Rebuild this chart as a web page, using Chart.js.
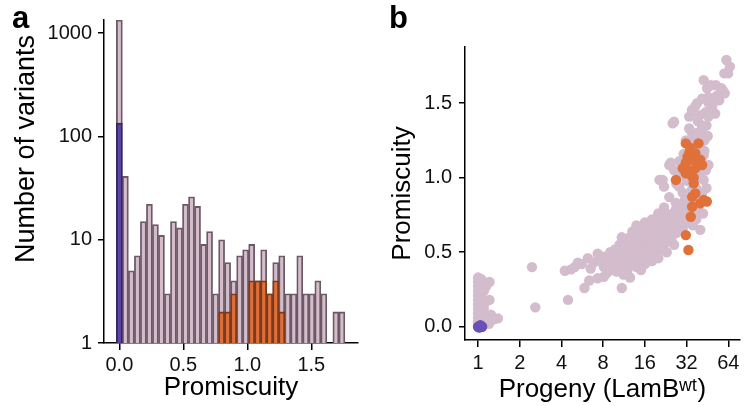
<!DOCTYPE html>
<html><head><meta charset="utf-8">
<script src="https://cdn.jsdelivr.net/npm/chart.js@4.4.1/dist/chart.umd.min.js"></script>
<style>
html,body{margin:0;padding:0;background:#fff;}
#wrap{position:relative;width:745px;height:406px;overflow:hidden;background:#fff;}
#ca{position:absolute;left:0;top:0;width:372px;height:406px;}
#cb{position:absolute;left:372px;top:0;width:373px;height:406px;}
.lbl{position:absolute;font-family:'Liberation Sans',Arial,sans-serif;font-weight:bold;font-size:31px;line-height:31px;color:#000;}
</style></head><body>
<div id="wrap">
<canvas id="ca" width="372" height="406"></canvas>
<canvas id="cb" width="373" height="406"></canvas>
<div class="lbl" style="left:12px;top:2px">a</div>
<div class="lbl" style="left:389px;top:2px">b</div>
</div>
<script>
// ---------- Panel a: histogram ----------
const binCenters = [0.000,0.047,0.094,0.141,0.188,0.235,0.282,0.329,0.376,0.423,0.470,0.517,0.564,0.611,0.658,0.705,0.752,0.799,0.846,0.893,0.940,0.987,1.034,1.081,1.128,1.175,1.222,1.269,1.316,1.363,1.410,1.457,1.504,1.551,1.598,1.645,1.692,1.739];
const allCounts = [1340,41,5,7,15,22,14,11,3,15,13,22,26,21,9,12,3,10,6,4,7,8,9,4,8,3,6,7,3,3,7,3,3,4,3,null,2,2];
const orangeBins = [0.799,0.846,0.893,1.034,1.081,1.128,1.175,1.222,1.269];
const orangeCounts = [2,2,3,4,4,4,3,4,2];
const blueBins = [0.000];
const blueCounts = [135];
const yTicksA = [1,10,100,1000];
const xTicksA = [0,0.5,1,1.5];

// ---------- Panel b: scatter ----------
const pinkPts = [
[1,0.00],[1,0.03],[1,0.06],[1,0.09],[1,0.12],[1,0.15],[1,0.18],[1,0.21],[1,0.24],[1,0.27],[1,0.30],[1,0.33],
[1.05,0.02],[1.05,0.08],[1.05,0.14],[1.05,0.20],[1.05,0.26],[1.05,0.32],
[1.1,0.05],[1.1,0.12],[1.1,0.24],[1.1,0.30],[1.21,0.30],[1.21,0.18],[1.24,0.08],[1.15,0.04],[1.3,0.05],[1.39,0.056],[1.2,0.02],[1.12,0.16],[1.14,0.27],
[2.45,0.40],[2.59,0.13],[4.46,0.18],[4.23,0.376],[4.98,0.40],[5.86,0.26],[6.35,0.31],[7.3,0.325],[8.1,0.335],[5.25,0.43],[6.2,0.46],[6.5,0.39],[7.3,0.49],[8.1,0.40],[9.0,0.50],[9.5,0.45],[10.9,0.26],[11.2,0.35],[11.9,0.425],[4.7,0.385],[5.6,0.42],[6.8,0.43],[7.8,0.45],
[7.5,0.44],[8.0,0.47],[8.5,0.42],[9.2,0.46],[9.8,0.52],[10.2,0.48],[10.5,0.55],[10.8,0.44],[11.0,0.52],[11.5,0.58],[11.8,0.49],[12.0,0.55],[12.3,0.46],[12.5,0.60],[12.8,0.52],[13.0,0.57],[13.5,0.50],[13.8,0.62],[14.0,0.55],[14.2,0.47],[14.6,0.59],[15.0,0.53],[15.2,0.65],[15.5,0.57],[15.8,0.49],[16.0,0.61],[16.3,0.55],[16.6,0.67],[17.0,0.58],[17.3,0.52],[17.6,0.63],[18.0,0.69],[18.3,0.57],[18.7,0.61],[19.0,0.54],[19.3,0.66],[19.7,0.60],[20.0,0.71],[20.4,0.63],[20.8,0.57],[21.2,0.67],[21.6,0.61],[22.0,0.73],[22.5,0.65],[23.0,0.58],[23.5,0.69],[24.0,0.62],[24.5,0.75],[25.0,0.67],[25.5,0.71],[26.0,0.64],[26.5,0.78],[27.0,0.70],[27.5,0.74],[28.0,0.67],[28.5,0.82],[29.0,0.72],[30.0,0.78],[29.5,0.65],
[9.5,0.38],[10.5,0.40],[11.5,0.43],[12.0,0.38],[13.0,0.42],[14.5,0.44],[16.0,0.47],[17.5,0.45],[19.0,0.50],[20.5,0.52],[22.0,0.55],
[14.0,0.40],[16.0,0.42],[18.0,0.44],[20.0,0.46],[23.0,0.50],[26.0,0.55],[12.5,0.33],[15.0,0.38],[14.0,0.66],[16.0,0.70],[18.0,0.72],[20.0,0.76],[13.0,0.64],[22.0,0.80],
[8.5,0.36],[9.0,0.41],[10.0,0.37],[10.0,0.45],[10.5,0.50],[11.0,0.41],[12.0,0.50],[13.0,0.47],[13.5,0.55],[14.5,0.50],[15.5,0.45],[16.5,0.52],[17.0,0.48],[18.0,0.53],[19.0,0.57],[20.0,0.55],[21.0,0.58],[22.5,0.60],[23.0,0.65],[24.0,0.68],[25.0,0.60],[26.0,0.72],[27.0,0.63],[28.0,0.75],[29.5,0.80],[31.0,0.70],[30.0,0.66],[32.0,0.73],[33.5,0.78],[34.5,0.86],[36.5,0.80],[38.5,0.85],[37.5,0.93],[39.0,1.00],[41.0,1.05],[42.5,1.15],[43.0,1.25],[44.5,1.35],[45.5,1.28],[47.0,1.45],[53.0,1.55],[55.0,1.52],[57.0,1.60],[52.0,1.62],
[24.0,0.87],[26.8,0.83],[28.3,0.94],[21.5,0.985],[22.0,0.94],[20.4,0.985],[24.0,1.085],[24.6,1.10],[28.3,1.11],[25.4,1.365],[26.0,1.375],[33.4,1.33],[35.1,1.44],[38.1,1.50],[42.5,1.655],[46.2,1.50],[50.0,1.53],[46.0,1.41],[41.4,1.33],[43.6,1.275],[40.2,1.23],[46.0,1.085],[42.5,0.985],[41.4,0.895],[40.2,0.65],[60.3,1.566],[58.9,1.58],[63.8,1.70],[60.0,1.70],[62.0,1.79],[65.7,1.745],[49.0,1.48],[51.5,1.43],[33.4,1.41],[37.0,1.48],[41.4,1.53],[46.0,1.54],[31.6,1.25],[39.0,1.185],[37.0,1.03],[35.0,0.92],[33.4,0.805],[31.6,0.76],[29.0,0.705],[26.7,0.67],[20.4,0.67],[19.3,0.60],[12.5,0.60],[10.9,0.60],[13.9,0.68],[17.4,0.69],[22.8,0.76],
[30.0,0.90],[32.0,0.98],[29.0,1.02],[27.0,0.96],[31.0,0.85],[36.0,1.25],[38.5,1.38],[44.0,1.44],[40.0,1.42],[45.0,1.60],[48.0,1.62],[35.0,1.30],[30.5,1.16],[26.0,1.05],[43.0,1.18],[44.0,1.05],[39.0,0.78],[37.5,0.72],[35.5,0.68],[33.0,0.70],[42.0,0.76],[44.5,0.93],[38.1,1.30],[42.5,1.275],[35.0,1.455],[41.4,1.35]
];
const orangePts = [
[31.6,1.23],[39.0,1.23],[33.4,1.165],[37.0,1.165],[31.6,1.10],[35.1,1.12],[40.2,1.12],[30.0,1.063],[33.4,1.05],[37.0,1.063],[41.4,1.085],[31.6,1.03],[35.1,1.007],[26.8,0.985],[36.0,0.962],[37.0,0.895],[35.1,0.872],[42.5,0.85],[40.2,0.828],[35.1,0.805],[34.3,0.738],[44.8,0.84],[31.6,0.615],[33.0,0.515],[34.0,1.20],[38.0,1.10],[32.5,1.14],[36.0,1.00]
];
const bluePts = [[1.0,0.0],[1.03,0.005],[1.05,0.0],[1.02,-0.005],[1.07,0.0],[1.04,0.01]];
const xTicksB = [1,2,4,8,16,32,64];
const yTicksB = [0,0.5,1,1.5];

const PINK='#d4bccb', PINK_EDGE='#6a5a66', ORANGE='#df6e37', ORANGE_EDGE='#7c3a1c', BLUE='#5a44a6', BLUE_EDGE='#33275f';
const PINK_DOT='#d3bccb', ORANGE_DOT='#e0713a', BLUE_DOT='#6a50b8';
const FONT="'Liberation Sans', Arial, sans-serif";
Chart.defaults.font.family = FONT;
Chart.defaults.color = '#111';

function axisBase(extra){
  return Object.assign({
    grid:{drawOnChartArea:false, drawTicks:true, color:'#000', lineWidth:1.5, tickLength:7, offset:false},
    border:{display:true, color:'#000', width:1.5},
  }, extra);
}
function toXY(xs, ys){ return xs.map((x,i)=>({x:x, y:ys[i]})); }
function pts(arr){ return arr.map(p=>({x:p[0], y:p[1]})); }

new Chart(document.getElementById('ca'), {
  type:'bar',
  data:{datasets:[
    {data:toXY(binCenters, allCounts), backgroundColor:PINK, borderColor:PINK_EDGE, borderWidth:1.8, grouped:false, order:2, barPercentage:1, categoryPercentage:1},
    {data:toXY(orangeBins, orangeCounts), backgroundColor:ORANGE, borderColor:ORANGE_EDGE, borderWidth:1.8, grouped:false, order:1, barPercentage:1, categoryPercentage:1},
    {data:toXY(blueBins, blueCounts), backgroundColor:BLUE, borderColor:BLUE_EDGE, borderWidth:1.8, grouped:false, order:0, barPercentage:1, categoryPercentage:1}
  ]},
  options:{
    responsive:false, animation:false, events:[],
    plugins:{legend:{display:false}, tooltip:{enabled:false}},
    layout:{padding:{left:0, top:20, right:14, bottom:0}},
    scales:{
      x: axisBase({type:'linear', min:-0.12, max:1.865, offset:false,
        afterBuildTicks:s=>{ s.ticks = xTicksA.map(v=>({value:v})); },
        afterFit:s=>{ s.height = 63; },
        ticks:{autoSkip:false, maxRotation:0, padding:3, font:{size:20}, callback:v=>Number(v).toFixed(1)},
        title:{display:true, text:'Promiscuity', color:'#000', font:{size:26}, padding:{top:0,bottom:3}}
      }),
      y: axisBase({type:'logarithmic', min:1, max:1340,
        afterBuildTicks:s=>{ s.ticks = yTicksA.map(v=>({value:v})); },
        afterFit:s=>{ s.width = 104; },
        grid:{drawOnChartArea:false, color:'#000', lineWidth:1.5, tickLength:6},
        ticks:{autoSkip:false, padding:6, font:{size:20}, callback:v=>String(v)},
        title:{display:true, text:'Number of variants  ', align:'end', color:'#000', font:{size:27}, padding:{top:10,bottom:0}}
      })
    }
  }
});

new Chart(document.getElementById('cb'), {
  type:'scatter',
  data:{datasets:[
    {data:pts(bluePts), backgroundColor:BLUE_DOT, pointRadius:5.2, borderWidth:0, order:0},
    {data:pts(orangePts), backgroundColor:ORANGE_DOT, pointRadius:5.2, borderWidth:0, order:1},
    {data:pts(pinkPts), backgroundColor:PINK_DOT, pointRadius:5.2, borderWidth:0, order:2}
  ]},
  options:{
    responsive:false, animation:false, events:[],
    plugins:{legend:{display:false}, tooltip:{enabled:false}},
    layout:{padding:{left:0, top:47, right:0, bottom:0}},
    scales:{
      x: axisBase({type:'logarithmic', min:0.805, max:77.5,
        afterBuildTicks:s=>{ s.ticks = xTicksB.map(v=>({value:v})); },
        afterFit:s=>{ s.height = 66; },
        ticks:{autoSkip:false, maxRotation:0, padding:4, font:{size:20}, callback:v=>String(v)},
        title:{display:true, text:'Progeny (LamB\u02B7\u1D57)', color:'#000', font:{size:26}, padding:{top:0,bottom:1}}
      }),
      y: axisBase({type:'linear', min:-0.089, max:1.877,
        afterBuildTicks:s=>{ s.ticks = yTicksB.map(v=>({value:v})); },
        afterFit:s=>{ s.width = 93; },
        grid:{drawOnChartArea:false, color:'#000', lineWidth:1.5, tickLength:6},
        ticks:{autoSkip:false, padding:7, font:{size:20}, callback:v=>Number(v).toFixed(1)},
        title:{display:true, text:'Promiscuity', color:'#000', font:{size:26}, padding:{top:15,bottom:0}}
      })
    }
  }
});
</script>
</body></html>
